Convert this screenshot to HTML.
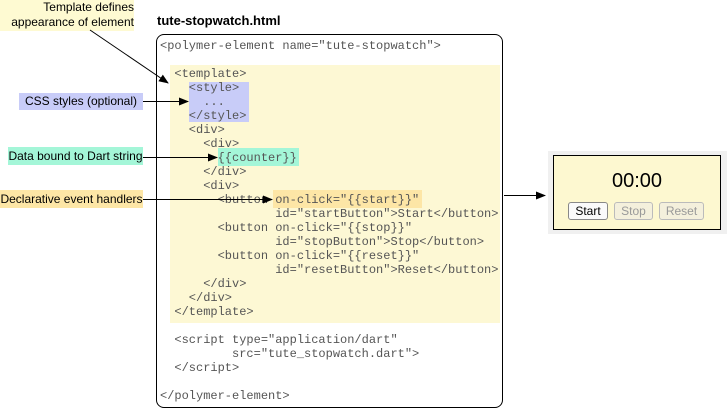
<!DOCTYPE html>
<html><head><style>
body{margin:0;width:727px;height:410px;background:#fff;position:relative;overflow:hidden;font-family:"Liberation Sans",sans-serif}
.a{position:absolute}
.lbl{position:absolute;font-size:12px;line-height:16px;color:#000;white-space:nowrap}
pre{position:absolute;margin:0;font-family:"Liberation Mono",monospace;font-size:12px;line-height:14px;color:#555}
.btn{position:absolute;top:202px;height:16px;border:1px solid #bbb;border-radius:3px;font-size:12px;line-height:16px;text-align:center;background:#f4f0dc;color:#999}
</style></head><body>
<div class="lbl" style="left:0;top:0;width:134px;height:31px;background:#fefad2;text-align:right;line-height:15px;padding-right:0">Template defines<br>appearance of element</div>
<div class="a" style="left:157px;top:13px;font-size:13px;font-weight:bold">tute-stopwatch.html</div>
<div class="a" style="left:156px;top:34px;width:347px;height:374px;border:1px solid #000;border-radius:8px;box-sizing:border-box"></div>
<div class="a" style="left:170px;top:65px;width:330px;height:258px;background:#fdf8d4"></div>
<div class="a" style="left:189px;top:82px;width:60px;height:40px;background:#c8ccf8"></div>
<div class="a" style="left:218px;top:148px;width:81px;height:18px;background:#a4f6d8"></div>
<div class="a" style="left:273px;top:190px;width:149px;height:18px;background:#fde6a6"></div>
<div class="lbl" style="left:19px;top:93px;width:124px;height:17px;background:#c8ccf8;text-align:center">CSS styles (optional)</div>
<div class="lbl" style="left:8px;top:147px;width:135px;height:18px;background:#a4f6d8;text-align:center;line-height:18px">Data bound to Dart string</div>
<div class="lbl" style="left:0;top:190px;width:143px;height:18px;background:#fde6a6;text-align:center;line-height:18px">Declarative event handlers</div>
<pre style="left:160px;top:39px">&lt;polymer-element name="tute-stopwatch"&gt;

  &lt;template&gt;
    &lt;style&gt;
      ...
    &lt;/style&gt;
    &lt;div&gt;
      &lt;div&gt;
        {{counter}}
      &lt;/div&gt;
      &lt;div&gt;
        &lt;button on-click="{{start}}"
                id="startButton"&gt;Start&lt;/button&gt;
        &lt;button on-click="{{stop}}"
                id="stopButton"&gt;Stop&lt;/button&gt;
        &lt;button on-click="{{reset}}"
                id="resetButton"&gt;Reset&lt;/button&gt;
      &lt;/div&gt;
    &lt;/div&gt;
  &lt;/template&gt;

  &lt;script type="application/dart"
          src="tute_stopwatch.dart"&gt;
  &lt;/script&gt;

&lt;/polymer-element&gt;</pre>
<svg class="a" style="left:0;top:0" width="727" height="410">
<defs><marker id="m" markerWidth="10" markerHeight="8" refX="9" refY="4" orient="auto" markerUnits="userSpaceOnUse"><path d="M0,0L10,4L0,8z" fill="#000"/></marker></defs>
<g stroke="#000" stroke-width="1" marker-end="url(#m)">
<line x1="90" y1="30" x2="168" y2="83"/>
<line x1="143" y1="101.5" x2="188" y2="101.5"/>
<line x1="143" y1="157.5" x2="217" y2="157.5"/>
<line x1="143" y1="199.5" x2="272" y2="199.5"/>
<line x1="504" y1="195.5" x2="545" y2="195.5"/>
</g></svg>
<div class="a" style="left:548px;top:151px;width:179px;height:83px;background:#f0f0f0"></div>
<div class="a" style="left:553px;top:155px;width:168px;height:75px;border:1px solid #000;box-sizing:border-box;background:#fdf8d0"></div>
<div class="a" style="left:553px;top:170px;width:168px;text-align:center;font-size:20px">00:00</div>
<div class="btn" style="left:568px;width:38px;background:#fafafa;color:#000;border-color:#888">Start</div>
<div class="btn" style="left:614px;width:37px">Stop</div>
<div class="btn" style="left:659px;width:43px">Reset</div>
</body></html>
